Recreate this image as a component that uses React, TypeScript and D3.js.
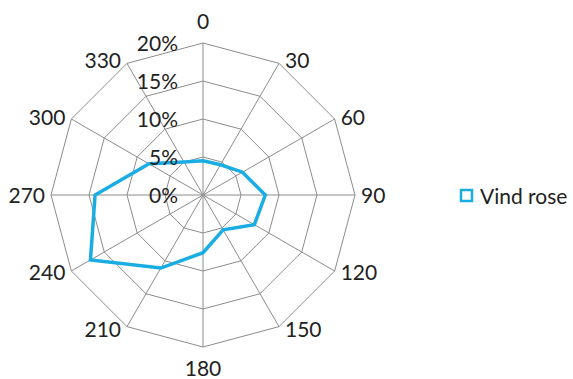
import React from "react";
import * as d3 from "d3";

// Wind directions (degrees) and frequency (%) per direction
const directions = ["0", "30", "60", "90", "120", "150", "180", "210", "240", "270", "300", "330"];
const frequency = [4.5, 4.6, 6.0, 8.2, 7.8, 5.3, 7.6, 11.1, 17.1, 14.2, 8.2, 5.0];
const ringTicks = [0, 5, 10, 15, 20];
const seriesName = "Vind rose";

const W = 573;
const H = 379;
const cx = 203;
const cy = 195;
const R = 152;
const FONT = "Lato, 'Open Sans', sans-serif";
const LINE_COLOR = "#1AADE4";
const GRID_COLOR = "#8c8c8c";

export default function App() {
  const r = d3.scaleLinear().domain([0, 20]).range([0, R]);
  const angle = d3
    .scaleLinear()
    .domain([0, directions.length])
    .range([0, 2 * Math.PI]);

  const pt = (i: number, v: number): [number, number] => {
    const a = angle(i);
    return [cx + r(v) * Math.sin(a), cy - r(v) * Math.cos(a)];
  };

  const ringPath = (v: number) =>
    directions.map((_, i) => pt(i, v).join(",")).join(" ");

  const radial = d3
    .lineRadial<number>()
    .angle((_, i) => angle(i))
    .radius((d) => r(d))
    .curve(d3.curveLinearClosed);

  return (
    <svg
      width={W}
      height={H}
      style={{ position: "absolute", left: 0, top: 0, background: "#fff" }}
      fontFamily={FONT}
    >
      {/* grid rings */}
      {ringTicks
        .filter((t) => t > 0)
        .map((t) => (
          <polygon
            key={t}
            points={ringPath(t)}
            fill="none"
            stroke={GRID_COLOR}
            strokeWidth={1}
          />
        ))}
      {/* spokes */}
      {directions.map((d, i) => {
        const [x, y] = pt(i, 20);
        return (
          <line key={d} x1={cx} y1={cy} x2={x} y2={y} stroke={GRID_COLOR} strokeWidth={1} />
        );
      })}
      {/* series */}
      <path
        d={radial(frequency) || ""}
        transform={`translate(${cx},${cy})`}
        fill="none"
        stroke={LINE_COLOR}
        strokeWidth={3.5}
        strokeLinejoin="miter"
      />
      {/* value labels */}
      {ringTicks.map((t) => (
        <text
          key={t}
          x={178}
          y={cy - r(t)}
          dy="0.36em"
          textAnchor="end"
          fontSize={21}
          fill="#222"
        >
          {t}%
        </text>
      ))}
      {/* direction labels */}
      {directions.map((d, i) => {
        const a = angle(i);
        const s = Math.sin(a);
        const c = Math.cos(a);
        const [vx, vy] = pt(i, 20);
        let x = vx;
        let y = vy;
        let anchor: "start" | "middle" | "end" = "middle";
        if (Math.abs(s) < 0.1) {
          y = c > 0 ? vy - 22 : vy + 21;
        } else {
          anchor = s > 0 ? "start" : "end";
          x = vx + (s > 0 ? 6 : -6);
          y = vy - 3 * c;
        }
        return (
          <text
            key={d}
            x={x}
            y={y}
            dy="0.36em"
            textAnchor={anchor}
            fontSize={21}
            fill="#222"
          >
            {d}
          </text>
        );
      })}
      {/* legend */}
      <rect
        x={461}
        y={190}
        width={11}
        height={11}
        fill="#fff"
        stroke={LINE_COLOR}
        strokeWidth={2.5}
      />
      <text x={480} y={196} dy="0.36em" fontSize={21} fill="#222">
        {seriesName}
      </text>
    </svg>
  );
}
